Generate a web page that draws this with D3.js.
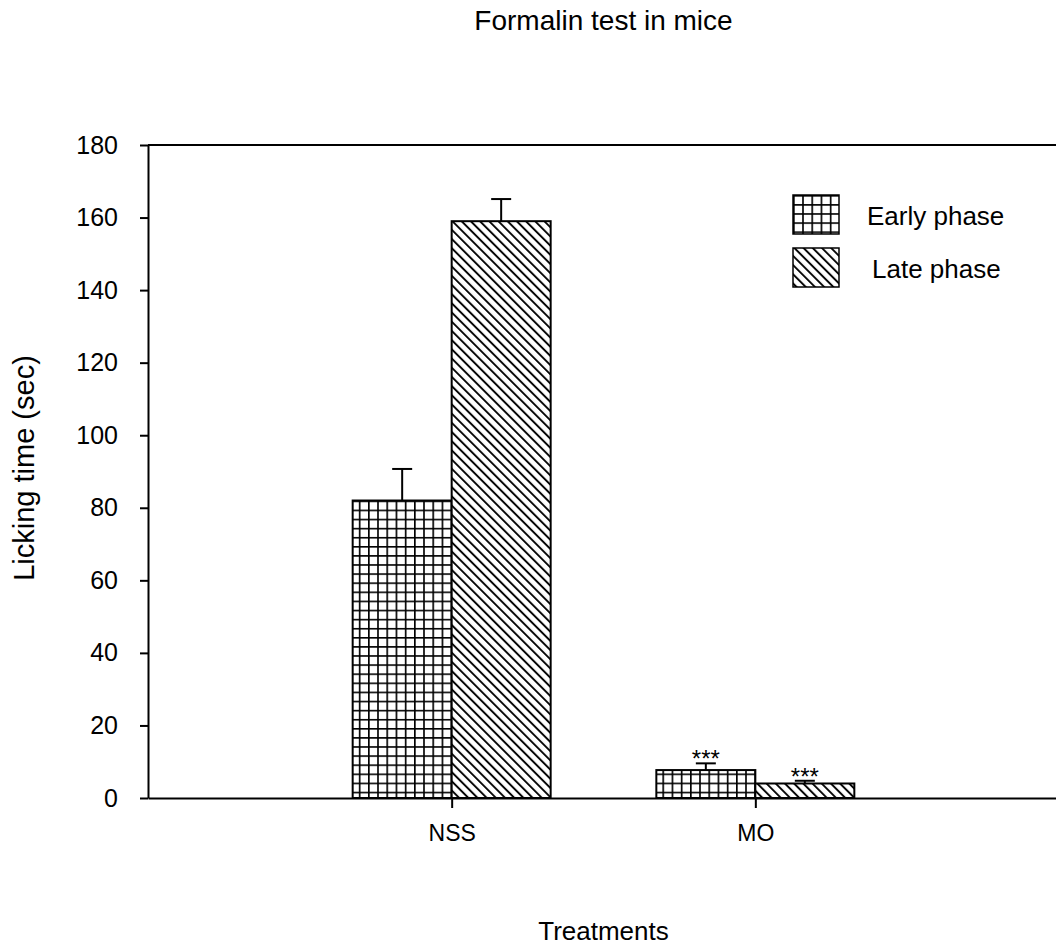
<!DOCTYPE html>
<html>
<head>
<meta charset="utf-8">
<script src="https://cdn.jsdelivr.net/npm/d3@7"></script>
<style>
  body { margin: 0; background: #fff; }
  svg text { font-family: Arial, "Liberation Sans", sans-serif; fill: #000; }
</style>
</head>
<body>
<svg id="chart" width="1056" height="949"></svg>
<script>
// Values
const categories = ["NSS", "MO"];
const seriesNames = ["Early phase", "Late phase"];
const earlyMeans = [82, 7.7];
const earlyErrors = [8.7, 1.85];
const lateMeans = [159, 4];
const lateErrors = [6.1, 0.75];
const earlyMarks = ["", "***"];
const lateMarks = ["", "***"];
const yTickValues = [0, 20, 40, 60, 80, 100, 120, 140, 160, 180];

const svg = d3.select("#chart");
const plot = { left: 148, right: 1059, top: 145, bottom: 798 };

const x = d3.scalePoint()
  .domain(categories)
  .range([plot.left, plot.right])
  .padding(1);
const barWidth = x.step() * 0.326;

const y = d3.scaleLinear().domain([0, 180]).range([plot.bottom, plot.top]);

/**
 * Fill patterns: square grid for early phase, "\" hatch for late phase
 */
const defs = svg.append("defs");

const grid = defs.append("pattern")
  .attr("id", "grid")
  .attr("patternUnits", "userSpaceOnUse")
  .attr("width", 9.2)
  .attr("height", 9.1);
grid.append("rect").attr("width", 9.2).attr("height", 9.1).attr("fill", "#fff");
grid.append("path")
  .attr("d", "M0.8,0V9.1M0,0.8H9.2")
  .attr("stroke", "#000")
  .attr("stroke-width", 1.7);

const hatch = defs.append("pattern")
  .attr("id", "hatch")
  .attr("patternUnits", "userSpaceOnUse")
  .attr("width", 6.5)
  .attr("height", 6.5)
  .attr("patternTransform", "rotate(-45)");
hatch.append("rect").attr("width", 6.5).attr("height", 6.5).attr("fill", "#fff");
hatch.append("line")
  .attr("x1", 1).attr("y1", 0)
  .attr("x2", 1).attr("y2", 6.5)
  .attr("stroke", "#000")
  .attr("stroke-width", 1.9);

const fills = ["url(#grid)", "url(#hatch)"];

// Title
svg.append("text")
  .attr("x", (plot.left + plot.right) / 2)
  .attr("y", 30)
  .attr("text-anchor", "middle")
  .attr("font-size", "28px")
  .text("Formalin test in mice");

// Bars, one group per series
const series = [
  { means: earlyMeans, errors: earlyErrors, marks: earlyMarks, offset: -1 },
  { means: lateMeans, errors: lateErrors, marks: lateMarks, offset: 0 }
];

series.forEach((s, si) => {
  const rows = categories.map((c, i) => ({
    cat: c, mean: s.means[i], err: s.errors[i], mark: s.marks[i]
  }));
  const g = svg.append("g");
  const bx = (d) => x(d.cat) + s.offset * barWidth;
  const cx = (d) => bx(d) + barWidth / 2;

  g.selectAll("rect")
    .data(rows)
    .join("rect")
    .attr("x", bx)
    .attr("y", (d) => y(d.mean))
    .attr("width", barWidth)
    .attr("height", (d) => y(0) - y(d.mean))
    .attr("fill", fills[si])
    .attr("stroke", "#000")
    .attr("stroke-width", 2);

  // upper error bar only
  g.selectAll("line.err")
    .data(rows)
    .join("line")
    .attr("class", "err")
    .attr("x1", cx).attr("x2", cx)
    .attr("y1", (d) => y(d.mean))
    .attr("y2", (d) => y(d.mean + d.err))
    .attr("stroke", "#000")
    .attr("stroke-width", 2);

  g.selectAll("line.cap")
    .data(rows)
    .join("line")
    .attr("class", "cap")
    .attr("x1", (d) => cx(d) - 10).attr("x2", (d) => cx(d) + 10)
    .attr("y1", (d) => y(d.mean + d.err))
    .attr("y2", (d) => y(d.mean + d.err))
    .attr("stroke", "#000")
    .attr("stroke-width", 2);

  g.selectAll("text.mark")
    .data(rows.filter((d) => d.mark))
    .join("text")
    .attr("class", "mark")
    .attr("x", cx)
    .attr("y", (d) => y(d.mean + d.err) + 4)
    .attr("text-anchor", "middle")
    .attr("font-size", "24px")
    .text((d) => d.mark);
});

// Axes
const yAxis = svg.append("g")
  .attr("transform", `translate(${plot.left},0)`)
  .call(d3.axisLeft(y).tickValues(yTickValues).tickSize(8).tickSizeOuter(0).tickPadding(22));
yAxis.selectAll("text").attr("font-size", "25px").attr("font-family", null);

const xAxis = svg.append("g")
  .attr("transform", `translate(0,${plot.bottom})`)
  .call(d3.axisBottom(x).tickSize(10).tickSizeOuter(0).tickPadding(17));
xAxis.selectAll("text").attr("font-size", "23px").attr("font-family", null);

svg.selectAll(".domain, .tick line").attr("stroke", "#000").attr("stroke-width", 2);

// top and right frame
svg.append("path")
  .attr("d", `M${plot.left},${plot.top}H${plot.right}V${plot.bottom}`)
  .attr("fill", "none")
  .attr("stroke", "#000")
  .attr("stroke-width", 2);

// Axis titles
svg.append("text")
  .attr("transform", `translate(34,468) rotate(-90)`)
  .attr("text-anchor", "middle")
  .attr("font-size", "29px")
  .text("Licking time (sec)");

svg.append("text")
  .attr("x", (plot.left + plot.right) / 2)
  .attr("y", 940)
  .attr("text-anchor", "middle")
  .attr("font-size", "26px")
  .text("Treatments");

// Legend
const legend = svg.append("g").attr("transform", "translate(793,195)");
const items = legend.selectAll("g")
  .data(seriesNames)
  .join("g")
  .attr("transform", (d, i) => `translate(0,${i * 53})`);

items.append("rect")
  .attr("width", 46)
  .attr("height", 39)
  .attr("fill", (d, i) => fills[i])
  .attr("stroke", "#000")
  .attr("stroke-width", 1.5);

items.append("text")
  .attr("x", (d, i) => (i === 0 ? 74 : 79))
  .attr("y", 30)
  .attr("font-size", "26px")
  .text((d) => d);
</script>
</body>
</html>
